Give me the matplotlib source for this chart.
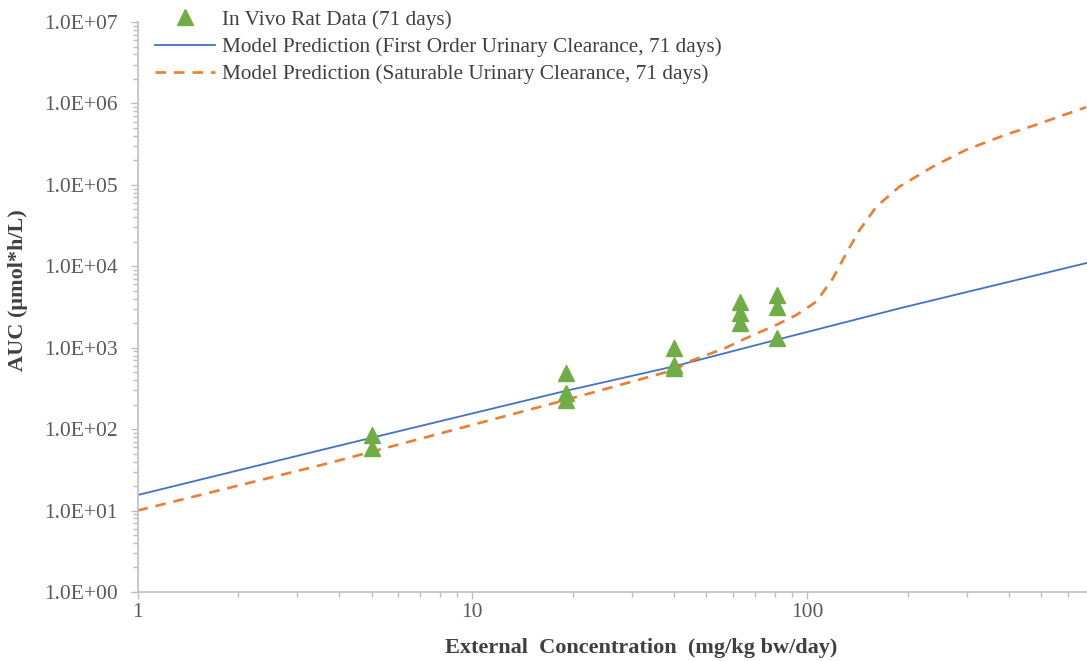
import matplotlib
matplotlib.use("Agg")
import matplotlib.pyplot as plt
from matplotlib.ticker import LogLocator, NullFormatter, FixedLocator

plt.rcParams['font.family'] = ['Liberation Serif', 'DejaVu Serif']

# measured AUC for each dose group (mg/kg bw/day)
rat_dose = [5, 5, 19, 19, 19, 40, 40, 40, 63, 63, 63, 81, 81, 81]
rat_auc = [85, 59, 490, 278, 228, 995, 615, 565, 3650, 2680, 2020, 4450, 3170, 1320]

# model: first-order urinary clearance
first_dose = [1, 3.75, 19, 40, 81, 189, 685]
first_auc = [15.5, 58.8, 295, 590, 1250, 3050, 11000]

# model: saturable urinary clearance
sat_dose = [1, 3.75, 19, 40, 45, 56.7, 67.3, 80.9, 92.9, 106.5, 119.4, 130.9,
            143.4, 161, 188.8, 237.6, 298.6, 393, 472, 681]
sat_auc = [10, 38.5, 228, 533, 690, 986, 1369, 1906, 2530, 3680, 7140, 14500,
           28000, 54100, 95300, 168000, 270000, 415000, 530000, 900000]

y_ticks = [1e0, 1e1, 1e2, 1e3, 1e4, 1e5, 1e6, 1e7]
y_labels = ['1.0E+00', '1.0E+01', '1.0E+02', '1.0E+03', '1.0E+04',
            '1.0E+05', '1.0E+06', '1.0E+07']
x_ticks = [1, 10, 100]
x_labels = ['1', '10', '100']

fig = plt.figure(figsize=(10.87, 6.61), dpi=100)
ax = fig.add_axes([0.1265, 0.1044, 0.8735, 0.8623])

ax.plot(rat_dose, rat_auc, linestyle='none', marker='^', markersize=11,
        color='#70ad47', label='In Vivo Rat Data (71 days)', zorder=3)
ax.plot(first_dose, first_auc, color='#4472c4', lw=1.3,
        label='Model Prediction (First Order Urinary Clearance, 71 days)')
ax.plot(sat_dose, sat_auc, color='#ed7d31', lw=1.9, dashes=(4, 3),
        label='Model Prediction (Saturable Urinary Clearance, 71 days)')

ax.set_xscale('log')
ax.set_yscale('log')
ax.set_xlim(1, 685)
ax.set_ylim(1, 1e7)

ax.yaxis.set_major_locator(FixedLocator(y_ticks))
ax.set_yticklabels(y_labels)
ax.xaxis.set_major_locator(FixedLocator(x_ticks))
ax.set_xticklabels(x_labels)
ax.xaxis.set_minor_locator(LogLocator(base=10, subs=range(2, 10)))
ax.yaxis.set_minor_locator(LogLocator(base=10, subs=range(2, 10)))
ax.xaxis.set_minor_formatter(NullFormatter())
ax.yaxis.set_minor_formatter(NullFormatter())

grey = '#bfbfbf'
for side in ['top', 'right']:
    ax.spines[side].set_visible(False)
for side in ['left', 'bottom']:
    ax.spines[side].set_color(grey)
    ax.spines[side].set_linewidth(1.2)

ax.tick_params(which='major', length=5, width=1, color=grey,
               labelsize=15.5, labelcolor='#595959')
ax.tick_params(which='minor', length=3.5, width=1, color=grey)
ax.tick_params(axis='y', which='major', pad=9)
ax.tick_params(axis='x', which='major', pad=3)

ax.set_xlabel('External  Concentration  (mg/kg bw/day)', fontsize=16,
              fontweight='bold', color='#404040')
ax.xaxis.set_label_coords(0.53, -0.08)
ax.set_ylabel('AUC (\u03bcmol*h/L)', fontsize=16, fontweight='bold',
              color='#404040')
ax.yaxis.set_label_coords(-0.115, 0.53)

leg = ax.legend(loc='upper left', bbox_to_anchor=(0.0095, 1.036), frameon=False,
                fontsize=15.3, handlelength=2.8, handletextpad=0.33,
                labelspacing=0.35, borderaxespad=0)
for t in leg.get_texts():
    t.set_color('#404040')

fig.savefig('out.png', dpi=100)
